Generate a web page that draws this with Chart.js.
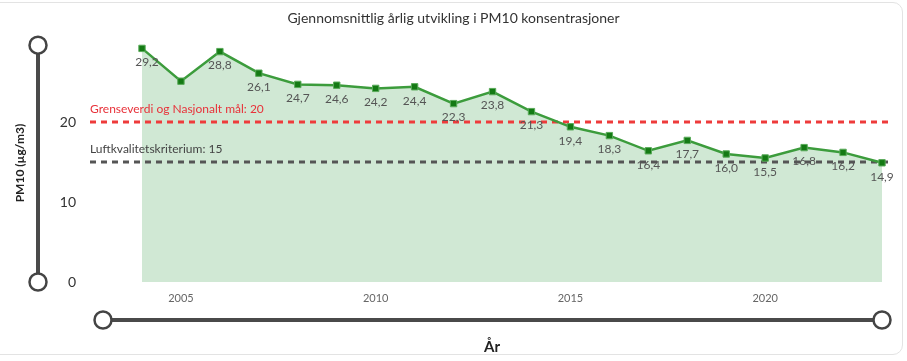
<!DOCTYPE html>
<html>
<head>
<meta charset="utf-8">
<script src="https://cdn.jsdelivr.net/npm/chart.js@4.4.1/dist/chart.umd.min.js"></script>
<style>
html,body{margin:0;padding:0;background:#fff;}
#wrap{position:relative;width:907px;height:361px;}
#frame{position:absolute;left:-10px;top:2px;width:913px;height:353px;border:1px solid #e3e3e3;border-radius:10px;box-sizing:border-box;}
canvas{position:absolute;left:0;top:0;}
</style>
</head>
<body>
<div id="wrap"><div id="frame"></div><canvas id="c" width="907" height="361"></canvas></div>
<script>
const years = ["2004","2005","2006","2007","2008","2009","2010","2011","2012","2013","2014","2015","2016","2017","2018","2019","2020","2021","2022","2023"];
const pm10 = [29.2,25.1,28.8,26.1,24.7,24.6,24.2,24.4,22.3,23.8,21.3,19.4,18.3,16.4,17.7,16.0,15.5,16.8,16.2,14.9];
const showLabel = [true,false,true,true,true,true,true,true,true,true,true,true,true,true,true,true,true,true,true,true];
const yTicks = [0,10,20];
const limitValue = 20;
const limitLabel = "Grenseverdi og Nasjonalt mål: 20";
const criterionValue = 15;
const criterionLabel = "Luftkvalitetskriterium: 15";
const titleText = "Gjennomsnittlig årlig utvikling i PM10 konsentrasjoner";
const yTitle = "PM10 (µg/m3)";
const xTitle = "År";

const FONT = "Lato, 'Open Sans', sans-serif";

const deco = {
  id: 'deco',
  beforeDatasetsDraw(chart) {
    const {ctx, chartArea: a, scales: {y}} = chart;
    const lines = [[limitValue, '#ee3b3b', limitLabel], [criterionValue, '#555555', criterionLabel]];
    lines.forEach(([v, col, lab]) => {
      const py = y.getPixelForValue(v);
      ctx.save();
      ctx.strokeStyle = col;
      ctx.lineWidth = 3;
      ctx.setLineDash([6, 5]);
      ctx.beginPath();
      ctx.moveTo(a.left - 52, py);
      ctx.lineTo(a.right + 8, py);
      ctx.stroke();
      ctx.restore();
      ctx.save();
      ctx.fillStyle = col === '#555555' ? '#444' : '#e8323a';
      ctx.font = "12px " + FONT;
      ctx.textAlign = 'left';
      ctx.textBaseline = 'middle';
      ctx.fillText(lab, a.left - 52, py - 13);
      ctx.restore();
    });
  },
  afterDraw(chart) {
    const {ctx, chartArea: a, scales: {y}} = chart;
    ctx.save();
    ctx.fillStyle = '#333';
    ctx.font = "14px " + FONT;
    ctx.textAlign = 'center';
    ctx.textBaseline = 'middle';
    ctx.fillText(titleText, chart.width / 2, 18);
    ctx.font = "bold 12px " + FONT;
    ctx.fillStyle = '#222';
    ctx.save();
    ctx.translate(20, 163);
    ctx.rotate(-Math.PI / 2);
    ctx.fillText(yTitle, 0, 0);
    ctx.restore();
    ctx.font = "bold 15px " + FONT;
    ctx.fillText(xTitle, 492, 347);
    ctx.strokeStyle = '#4a4a4a';
    ctx.lineWidth = 4;
    ctx.setLineDash([]);
    const vx = 38, vTop = y.getPixelForValue(29.6), vBot = y.getPixelForValue(0);
    ctx.beginPath(); ctx.moveTo(vx, vTop); ctx.lineTo(vx, vBot); ctx.stroke();
    const hy = 320, hL = 103, hR = a.right;
    ctx.beginPath(); ctx.moveTo(hL, hy); ctx.lineTo(hR, hy); ctx.stroke();
    ctx.lineWidth = 2.5;
    ctx.strokeStyle = '#444';
    ctx.fillStyle = '#fff';
    [[vx, vTop], [vx, vBot], [hL, hy], [hR, hy]].forEach(([cx, cy]) => {
      ctx.beginPath(); ctx.arc(cx, cy, 8.5, 0, Math.PI * 2); ctx.fill(); ctx.stroke();
    });
    const meta = chart.getDatasetMeta(0);
    ctx.font = "12px " + FONT;
    ctx.fillStyle = '#555';
    ctx.textAlign = 'center';
    ctx.textBaseline = 'middle';
    meta.data.forEach((pt, i) => {
      if (!showLabel[i]) return;
      const txt = pm10[i].toFixed(1).replace('.', ',');
      ctx.fillText(txt, pt.x + (i === 0 ? 5 : 0), pt.y + 14);
    });
    ctx.restore();
  }
};

new Chart(document.getElementById('c'), {
  type: 'line',
  data: {
    labels: years,
    datasets: [{
      data: pm10,
      borderColor: '#3c9c3c',
      borderWidth: 2.5,
      backgroundColor: 'rgba(208,232,212,1)',
      fill: 'origin',
      tension: 0,
      pointStyle: 'rect',
      pointRadius: 4.5,
      pointBackgroundColor: '#147a14',
      pointBorderColor: '#5aab5a',
      pointBorderWidth: 1
    }]
  },
  options: {
    responsive: false,
    animation: false,
    layout: {padding: {top: 42, right: 25, left: 0, bottom: 0}},
    plugins: {legend: {display: false}, title: {display: false}, tooltip: {enabled: false}, filler: {drawTime: 'beforeDraw'}},
    scales: {
      x: {
        type: 'category',
        offset: false,
        grid: {display: false, drawTicks: false},
        border: {display: false},
        ticks: {
          autoSkip: false,
          maxRotation: 0,
          padding: 10,
          color: '#666',
          font: {size: 11, family: FONT},
          callback: function(v, i) { const y = years[i]; return (+y % 5 === 0) ? y : ''; }
        },
        afterFit(s) { s.height = 79; s.paddingLeft = 0; s.paddingRight = 0; }
      },
      y: {
        min: 0,
        max: 30,
        grid: {display: false, drawTicks: false},
        border: {display: false},
        afterBuildTicks(s) { s.ticks = yTicks.map(v => ({value: v})); },
        ticks: {
          padding: 66,
          color: '#333',
          font: {size: 14, family: FONT}
        },
        afterFit(s) { s.width = 142; s.paddingTop = 0; s.paddingBottom = 0; }
      }
    }
  },
  plugins: [deco]
});
</script>
</body>
</html>
